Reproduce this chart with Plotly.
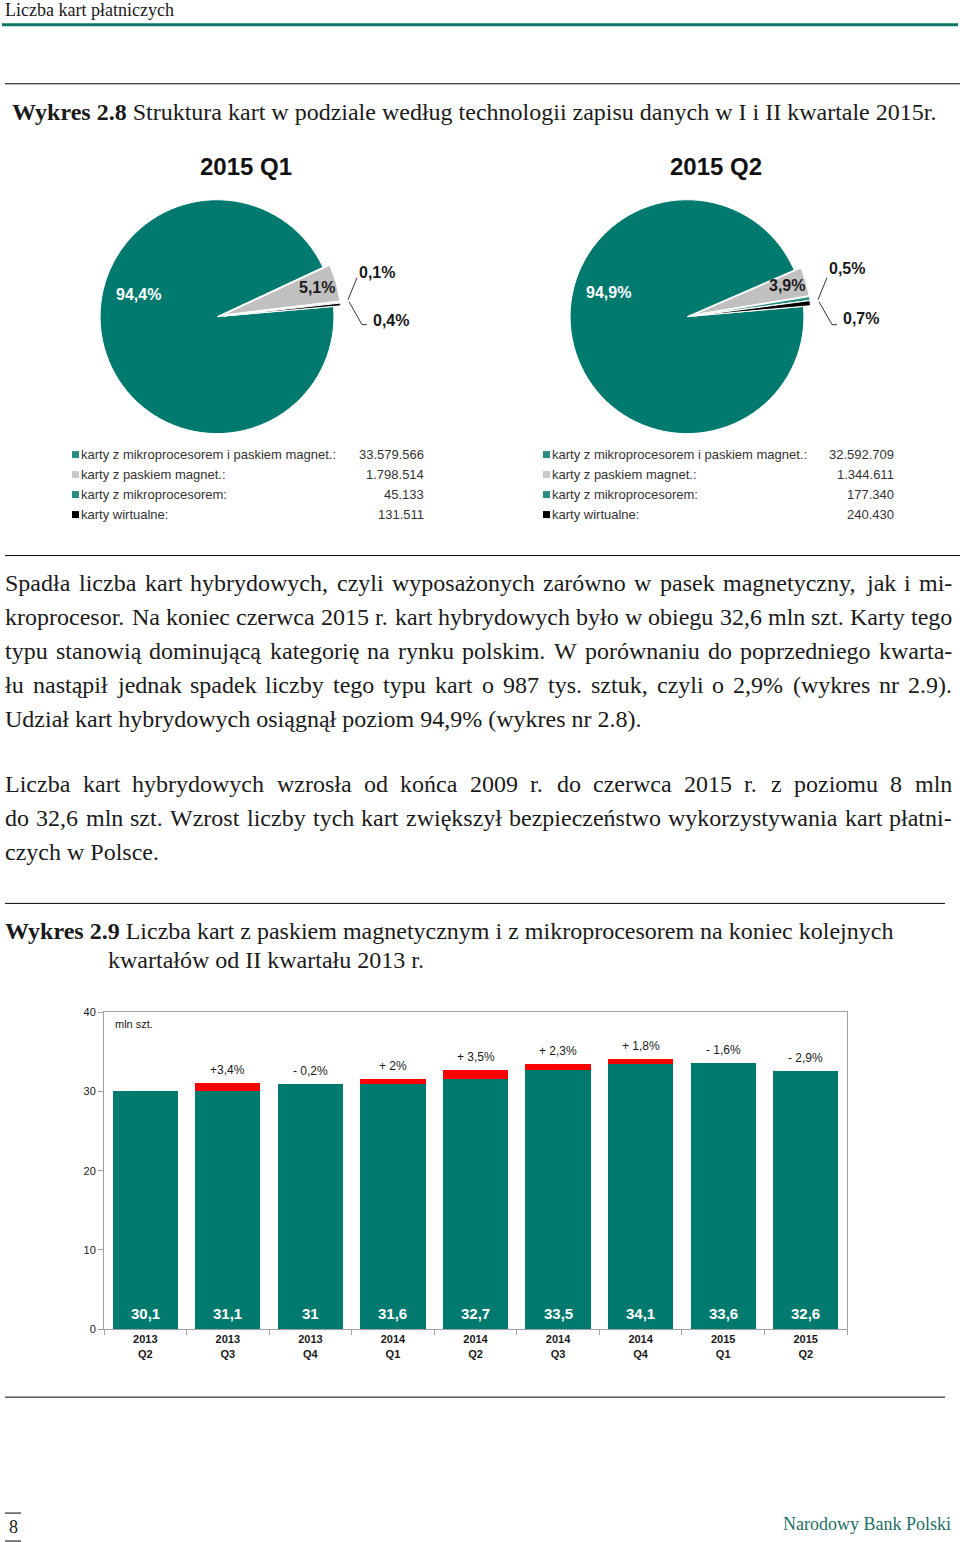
import plotly.graph_objects as go

W, H = 960, 1542
# small empirical vertical correction (rendered = 5.17 + 0.99272 * specified)
VA, VB = 5.17, 0.99272


def px(x):
    return x / W


def py(y):
    return 1 - ((y - VA) / VB) / H


# ---------------- data ----------------
pie_titles = ["2015 Q1", "2015 Q2"]
card_types = [
    "karty z mikroprocesorem i paskiem magnet.:",
    "karty z paskiem magnet.:",
    "karty z mikroprocesorem:",
    "karty wirtualne:",
]
q1_values = [33579566, 1798514, 45133, 131511]
q2_values = [32592709, 1344611, 177340, 240430]

quarters = ["2013<br>Q2", "2013<br>Q3", "2013<br>Q4", "2014<br>Q1", "2014<br>Q2",
            "2014<br>Q3", "2014<br>Q4", "2015<br>Q1", "2015<br>Q2"]
hybrid_mln = [30.1, 31.1, 31.0, 31.6, 32.7, 33.5, 34.1, 33.6, 32.6]
change_labels = ["", "+3,4%", "- 0,2%", "+ 2%", "+ 3,5%", "+ 2,3%", "+ 1,8%", "- 1,6%", "- 2,9%"]

header_text = "Liczba kart płatniczych"
title_28_bold = "Wykres 2.8"
title_28 = " Struktura kart w podziale według technologii zapisu danych w I i II kwartale 2015r."
para1 = [
    "Spadła liczba kart hybrydowych, czyli wyposażonych zarówno w pasek magnetyczny, jak i mi-",
    "kroprocesor. Na koniec czerwca 2015 r. kart hybrydowych było w obiegu 32,6 mln szt. Karty tego",
    "typu stanowią dominującą kategorię na rynku polskim. W porównaniu do poprzedniego kwarta-",
    "łu nastąpił jednak spadek liczby tego typu kart o 987 tys. sztuk, czyli o 2,9% (wykres nr 2.9).",
    "Udział kart hybrydowych osiągnął poziom 94,9% (wykres nr 2.8).",
]
para2 = [
    "Liczba kart hybrydowych wzrosła od końca 2009 r. do czerwca 2015 r. z poziomu 8 mln",
    "do 32,6 mln szt. Wzrost liczby tych kart zwiększył bezpieczeństwo wykorzystywania kart płatni-",
    "czych w Polsce.",
]
title_29_bold = "Wykres 2.9"
title_29_l1 = " Liczba kart z paskiem magnetycznym i z mikroprocesorem na koniec kolejnych"
title_29_l2 = "kwartałów od II kwartału 2013 r."
footer_page = "8"
footer_org = "Narodowy Bank Polski"

# ---------------- styles ----------------
TEAL = "#007A6E"
TEAL2 = "#2A8C80"
GREY = "#C0C0C0"
RED = "#FF0000"
TXT = "#1A1A1A"
SERIF = "Liberation Serif"
SANS = "Arial, Liberation Sans, sans-serif"
pie_colors = [TEAL, GREY, TEAL2, "#000000"]
legend_colors = [TEAL2, "#C8C8C8", TEAL2, "#000000"]

# Times / Liberation Serif advance widths (per 1000 em)
TW = {" ": 250, "%": 833, "(": 333, ")": 333, ",": 250, "-": 333, ".": 250, ":": 278,
      "A": 722, "B": 667, "C": 667, "D": 722, "E": 611, "F": 556, "G": 722, "H": 722,
      "I": 333, "J": 389, "K": 722, "L": 611, "M": 889, "N": 722, "O": 722, "P": 556,
      "Q": 722, "R": 667, "S": 556, "T": 611, "U": 722, "V": 722, "W": 944, "X": 722,
      "Y": 722, "Z": 611,
      "a": 444, "b": 500, "c": 444, "d": 500, "e": 444, "f": 333, "g": 500, "h": 500,
      "i": 278, "j": 278, "k": 500, "l": 278, "m": 778, "n": 500, "o": 500, "p": 500,
      "q": 500, "r": 333, "s": 389, "t": 278, "u": 500, "v": 500, "w": 722, "x": 500,
      "y": 500, "z": 444}
for d in "0123456789":
    TW[d] = 500
for acc, base in {"ą": "a", "ć": "c", "ę": "e", "ł": "l", "ń": "n", "ó": "o", "ś": "s",
                  "ź": "z", "ż": "z", "Ł": "L", "Ś": "S"}.items():
    TW[acc] = TW[base]


def tw(s, size):
    return sum(TW.get(c, 500) for c in s) * size / 1000.0


fig = go.Figure()
annotations = []
shapes = []


def ann(x, y, s, size, family=SANS, color=TXT, xanchor="center", yanchor="middle"):
    annotations.append(dict(
        x=px(x), y=py(y), xref="paper", yref="paper", text=s, showarrow=False,
        xanchor=xanchor, yanchor=yanchor, borderpad=0, borderwidth=0,
        font=dict(family=family, size=size, color=color)))


def text(x, baseline, s, size, family=SERIF, color=TXT, anchor="left"):
    ann(x, baseline - 0.34 * size, s, size, family=family, color=color, xanchor=anchor)


def hline(x0, x1, y, color="#000000", width=1):
    shapes.append(dict(type="line", xref="paper", yref="paper", x0=px(x0), x1=px(x1),
                       y0=py(y), y1=py(y), line=dict(color=color, width=width)))


BODY = 24
LEFT, RIGHT = 5, 952


def justified(line, baseline):
    words = line.split(" ")
    widths = [tw(w, BODY) for w in words]
    gap = (RIGHT - LEFT - sum(widths)) / (len(words) - 1)
    x = LEFT
    for w, wd in zip(words, widths):
        text(x, baseline, w, BODY)
        x += wd + gap


# ---------------- page furniture ----------------
text(5, 15, header_text, 18)
hline(2, 958, 24, color="#0E7468", width=3)
hline(5, 960, 83)
text(12, 119, "<b>" + title_28_bold + "</b>" + title_28, BODY)
hline(5, 960, 555)

for i, line in enumerate(para1):
    b = 591 + 34 * i
    if i < len(para1) - 1:
        justified(line, b)
    else:
        text(LEFT, b, line, BODY)
for i, line in enumerate(para2):
    b = 792 + 34 * i
    if i < len(para2) - 1:
        justified(line, b)
    else:
        text(LEFT, b, line, BODY)

hline(5, 945, 903)
text(5, 939, "<b>" + title_29_bold + "</b>" + title_29_l1, BODY)
text(108, 968, title_29_l2, BODY)
hline(5, 945, 1397)

hline(5, 21, 1513)
hline(5, 21, 1541)
text(13, 1533, footer_page, 18, anchor="center")
text(951, 1530, footer_org, 18, color="#1F6F66", anchor="right")

# ---------------- pies ----------------
pull = 0.06
pie_centers = [(217, 316), (687, 316)]
pie_r = 117
label_pos = [
    [(138, 294, "white"), (317, 287, TXT), (377, 272, TXT), (391, 320, TXT)],
    [(608, 292, "white"), (787, 285, TXT), (847, 268, TXT), (861, 318, TXT)],
]
for k, (vals, (cx, cy)) in enumerate(zip([q1_values, q2_values], pie_centers)):
    half = pie_r * (1 + pull)
    fig.add_trace(go.Pie(
        values=vals, labels=card_types, sort=False, direction="clockwise", rotation=85,
        pull=[0, pull, pull, pull], textinfo="none", showlegend=False, hoverinfo="label+value",
        marker=dict(colors=pie_colors, line=dict(color="white", width=1)),
        domain=dict(x=[px(cx - half), px(cx + half)], y=[py(cy + half), py(cy - half)]),
    ))
    ann(cx + 29, 166, "<b>" + pie_titles[k] + "</b>", 24, color="#111111")
    tot = sum(vals)
    pct = [f"{v / tot * 100:.1f}".replace(".", ",") + "%" for v in vals]
    for t, (lx, ly, col) in zip(pct, label_pos[k]):
        ann(lx, ly, "<b>" + t + "</b>", 16, color=col)
    # leader lines
    ox = 0 if k == 0 else 470
    for pts in ([(348 + ox, 299), (357 + ox, 277)],
                [(349 + ox, 301), (362 + ox, 324), (367 + ox, 324)]):
        path = "M " + " L ".join(f"{px(a)},{py(b)}" for a, b in pts)
        shapes.append(dict(type="path", xref="paper", yref="paper", path=path,
                           line=dict(color="#333333", width=1)))
    # legend
    lx0 = 72 if k == 0 else 543
    vx = 424 if k == 0 else 894
    for i, (name, v) in enumerate(zip(card_types, vals)):
        yr = 454 + 20 * i
        shapes.append(dict(type="rect", xref="paper", yref="paper",
                           x0=px(lx0), x1=px(lx0 + 7), y0=py(yr + 3.5), y1=py(yr - 3.5),
                           fillcolor=legend_colors[i], line=dict(width=0)))
        ann(lx0 + 9, yr, name, 13, color="#333333", xanchor="left")
        ann(vx, yr, f"{v:,}".replace(",", "."), 13, color="#333333", xanchor="right")

# ---------------- bar chart ----------------
base_part = [hybrid_mln[0]] + [min(c, p) for p, c in zip(hybrid_mln[:-1], hybrid_mln[1:])]
rise_part = [0] + [max(0, round(c - p, 3)) for p, c in zip(hybrid_mln[:-1], hybrid_mln[1:])]

fig.add_trace(go.Bar(x=quarters, y=base_part, marker=dict(color=TEAL, line=dict(width=0)),
                     showlegend=False, xaxis="x", yaxis="y", hoverinfo="skip"))
fig.add_trace(go.Bar(x=quarters, y=rise_part, marker=dict(color=RED, line=dict(width=0)),
                     showlegend=False, xaxis="x", yaxis="y", hoverinfo="skip"))

for q, v, ch in zip(quarters, hybrid_mln, change_labels):
    annotations.append(dict(x=q, y=0, xref="x", yref="y", xanchor="center", yanchor="bottom",
                            yshift=5, text="<b>" + f"{v:g}".replace(".", ",") + "</b>",
                            showarrow=False,
                            font=dict(family=SANS, size=15, color="white")))
    if ch:
        annotations.append(dict(x=q, y=v, xref="x", yref="y", xanchor="center",
                                yanchor="bottom", yshift=4, text=ch, showarrow=False,
                                font=dict(family=SANS, size=12, color=TXT)))

ann(115, 1024, "mln szt.", 11, xanchor="left")

fig.update_layout(
    width=W, height=H, margin=dict(l=0, r=0, t=0, b=0),
    paper_bgcolor="white", plot_bgcolor="white",
    barmode="stack", bargap=0.21,
    xaxis=dict(domain=[px(104), px(847)], anchor="y", type="category",
               showline=True, mirror=True, linecolor="#A0A0A0", linewidth=1,
               ticks="outside", tickson="boundaries", ticklen=5, tickcolor="#A0A0A0",
               tickfont=dict(family=SANS, size=11, color=TXT),
               tickprefix="<b>", ticksuffix="</b>", showgrid=False),
    yaxis=dict(domain=[py(1329), py(1012)], anchor="x", range=[0, 40],
               tickvals=[0, 10, 20, 30, 40], showline=True, mirror=True,
               linecolor="#A0A0A0", linewidth=1, ticks="outside", ticklen=5,
               tickcolor="#A0A0A0", showgrid=False, zeroline=False,
               tickfont=dict(family=SANS, size=11, color=TXT)),
    annotations=annotations, shapes=shapes,
)

fig.write_html(
    "out.html",
    config={"displayModeBar": False},
    post_script="document.body.style.margin='0';document.body.style.overflow='hidden';",
)
